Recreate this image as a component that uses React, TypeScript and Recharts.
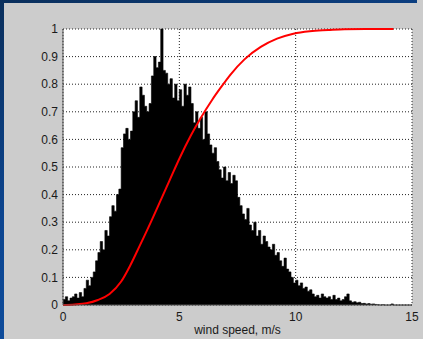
import React from "react";
import {
  ComposedChart,
  Area,
  Line,
  XAxis,
  YAxis,
  CartesianGrid,
} from "recharts";

// histogram of wind speed, bins of 0.1 m/s starting at 0
const binWidth = 0.1;
const histValues = [
  0.02, 0.03, 0.015, 0.025, 0.03, 0.04, 0.025, 0.045, 0.03, 0.06,
  0.09, 0.07, 0.1, 0.12, 0.16, 0.19, 0.23, 0.2, 0.27, 0.25,
  0.32, 0.36, 0.34, 0.4, 0.42, 0.57, 0.62, 0.64, 0.6, 0.63,
  0.7, 0.74, 0.68, 0.79, 0.76, 0.72, 0.7, 0.73, 0.83, 0.9,
  0.86, 0.88, 1.0, 0.85, 0.84, 0.8, 0.82, 0.75, 0.8, 0.74,
  0.78, 0.72, 0.8, 0.76, 0.79, 0.73, 0.66, 0.7, 0.64, 0.68,
  0.6, 0.7, 0.62, 0.58, 0.55, 0.57, 0.52, 0.49, 0.46, 0.5,
  0.45, 0.48, 0.44, 0.47, 0.45, 0.39, 0.36, 0.33, 0.31, 0.35,
  0.29, 0.27, 0.3, 0.25, 0.27, 0.22, 0.25, 0.23, 0.21, 0.2,
  0.22, 0.18, 0.19, 0.16, 0.14, 0.17, 0.13, 0.12, 0.1, 0.08,
  0.09, 0.07, 0.08, 0.06, 0.065, 0.05, 0.055, 0.04, 0.03, 0.035,
  0.025, 0.04, 0.03, 0.025, 0.03, 0.02, 0.035, 0.02, 0.025, 0.015,
  0.02, 0.03, 0.04, 0.015, 0.01, 0.012, 0.008, 0.01, 0.005, 0.006,
  0.004, 0.005, 0.003, 0.004, 0.002, 0.001, 0, 0.001, 0, 0,
  0, 0.004, 0, 0, 0, 0, 0, 0, 0, 0,
];

// cumulative distribution (red curve)
const cdfSpeed = [
  0, 0.5, 1.0, 1.5, 2.0, 2.5, 2.9, 3.3, 3.8, 4.2, 4.6, 5.0, 5.5, 5.9, 6.4,
  6.8, 7.2, 7.8, 8.5, 9.2, 9.9, 10.6, 11.4, 12.1, 13.0, 14.2,
];
const cdfValues = [
  0, 0.002, 0.006, 0.018, 0.04, 0.085, 0.145, 0.215, 0.305, 0.38, 0.455, 0.53,
  0.615, 0.675, 0.742, 0.79, 0.835, 0.89, 0.935, 0.965, 0.983, 0.992, 0.996,
  0.999, 1.0, 1.0,
];

const xTicks = [0, 5, 10, 15];
const yTicks = [0, 0.1, 0.2, 0.3, 0.4, 0.5, 0.6, 0.7, 0.8, 0.9, 1];
const xLabel = "wind speed, m/s";

const cdfByBin = new Map<number, number>();
cdfSpeed.forEach((s, i) => cdfByBin.set(Math.round(s / binWidth), cdfValues[i]));

const chartData = [
  ...histValues.map((h, i) => ({
    x: i / 10,
    h,
    c: cdfByBin.get(i),
  })),
  { x: 15, h: 0, c: undefined },
];

const font = '"Liberation Sans Narrow", "Arial Narrow", "Liberation Sans", Arial, sans-serif';
const tickStyle = { fontSize: 12, fill: "#1a1a1a", fontFamily: font };

export default function App() {
  return (
    <div
      style={{
        position: "absolute",
        left: 0,
        top: 0,
        width: 423,
        height: 339,
        overflow: "hidden",
        background: "linear-gradient(160deg, #0a2f5c 0%, #0c4590 45%, #1054a8 100%)",
      }}
    >
      <div
        style={{
          position: "absolute",
          left: 4,
          top: 3,
          width: 419,
          height: 336,
          background: "#cccccc",
        }}
      />
      <div
        style={{
          position: "absolute",
          left: 417,
          top: 0,
          width: 6,
          height: 3,
          background: "#cccccc",
        }}
      />
      <div style={{ position: "absolute", left: 0, top: 0 }}>
        <ComposedChart
          width={423}
          height={339}
          data={chartData}
          margin={{ top: 29, right: 11, bottom: 0, left: 0 }}
        >
          <CartesianGrid
            stroke="#222"
            strokeDasharray="1 2"
            fill="#ffffff"
            fillOpacity={1}
            horizontalValues={yTicks}
            verticalValues={xTicks}
          />
          <XAxis
            dataKey="x"
            type="number"
            domain={[0, 15]}
            ticks={xTicks}
            height={34}
            tickSize={0}
            tickMargin={7}
            tickLine={false}
            axisLine={{ stroke: "#555" }}
            tick={tickStyle}
            interval={0}
            label={{
              value: xLabel,
              position: "insideBottom",
              offset: 5,
              fontSize: 12,
              fill: "#1a1a1a",
              fontFamily: font,
            }}
          />
          <XAxis
            xAxisId="top"
            orientation="top"
            type="number"
            dataKey="x"
            domain={[0, 15]}
            height={0}
            tick={false}
            tickLine={false}
            axisLine={{ stroke: "#000" }}
          />
          <YAxis
            type="number"
            domain={[0, 1]}
            ticks={yTicks}
            width={63}
            tickSize={0}
            tickMargin={5}
            tickLine={false}
            axisLine={{ stroke: "#555" }}
            tick={tickStyle}
            interval={0}
          />
          <YAxis
            yAxisId="right"
            orientation="right"
            type="number"
            domain={[0, 1]}
            width={0}
            tick={false}
            tickLine={false}
            axisLine={{ stroke: "#000" }}
          />
          <Area
            type="stepAfter"
            dataKey="h"
            stroke="#000"
            strokeWidth={0.6}
            fill="#000"
            fillOpacity={1}
            dot={false}
            activeDot={false}
            isAnimationActive={false}
          />
          <Line
            type="monotone"
            dataKey="c"
            stroke="#ff0000"
            strokeWidth={2}
            dot={false}
            activeDot={false}
            connectNulls
            isAnimationActive={false}
          />
        </ComposedChart>
      </div>
    </div>
  );
}
